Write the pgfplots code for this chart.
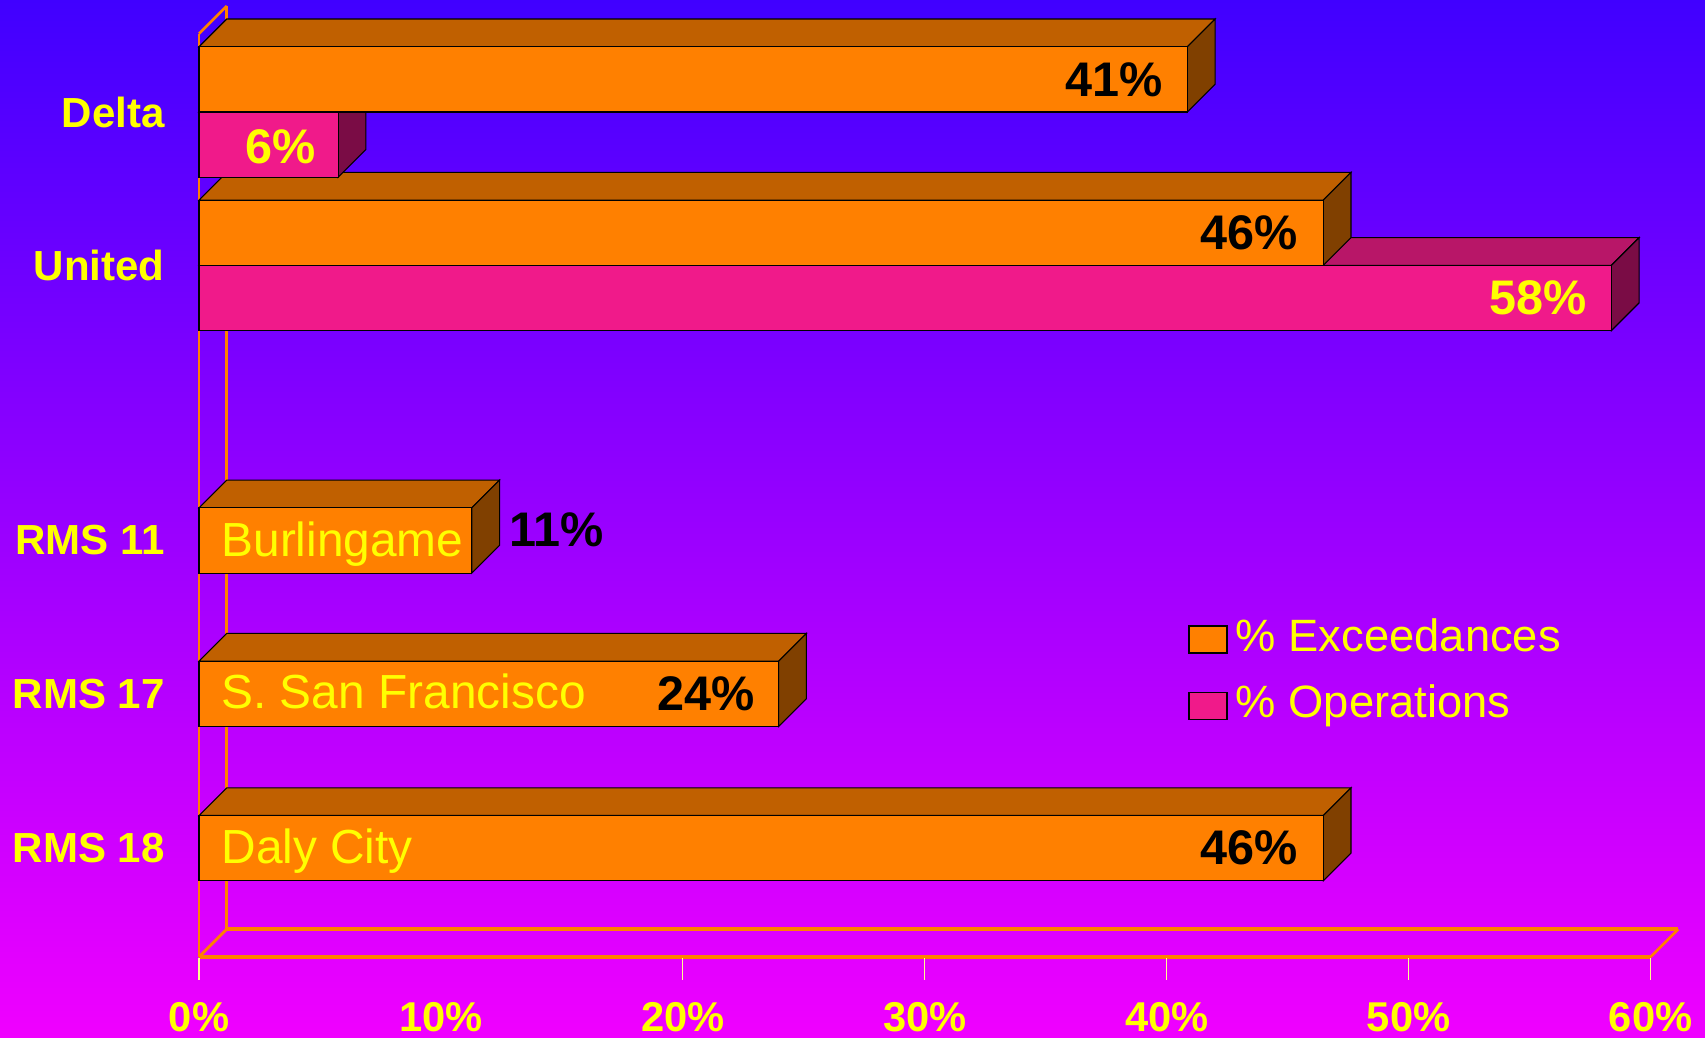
\documentclass[border=0pt]{standalone}
\usepackage{pgfplots}
\pgfplotsset{compat=1.18}
\usepackage{fontspec}
\setmainfont{Liberation Sans}

\definecolor{bgtop}{RGB}{64,0,255}
\definecolor{bgbot}{RGB}{240,0,255}
\definecolor{orfront}{RGB}{255,128,0}
\definecolor{ortop}{RGB}{192,96,0}
\definecolor{orside}{RGB}{128,64,0}
\definecolor{pkfront}{RGB}{240,26,138}
\definecolor{pktop}{RGB}{184,22,104}
\definecolor{pkside}{RGB}{122,12,69}
\definecolor{yel}{RGB}{255,255,0}
\definecolor{ticky}{RGB}{255,255,140}

\begin{document}
\begin{tikzpicture}
% 1 px of the 1568x954 view = 0.3pt
\shade[top color=bgtop, bottom color=bgbot, use as bounding box] (0,0) rectangle (470.4pt,286.2pt);
\begin{axis}[
  at={(54.9pt,0pt)}, anchor=south west,
  scale only axis, width=400.5pt, height=286.2pt,
  xmin=0, xmax=60, ymin=0, ymax=954, y dir=reverse,
  clip=false,
  axis line style={draw=none},
  ytick=\empty,
  xtick={0,10,...,60},
  xticklabels={0\%,10\%,20\%,30\%,40\%,50\%,60\%},
  major tick length=0pt,
  xticklabel style={font=\bfseries\fontsize{11.5}{13}\selectfont, text=yel, anchor=center, yshift=5.7pt},
  legend style={at={(axis cs:40.85,565)}, anchor=north west, draw=none, fill=none,
    inner sep=0pt, row sep=4.8pt,
    font=\fontsize{12.5}{14}\selectfont, text=yel,
    nodes={text height=9pt, text depth=2.5pt, inner sep=1pt}},
  legend cell align=left,
  legend image code/.code={\draw[#1, line width=0.4pt] (0pt,-3.75pt) rectangle (10.5pt,3.75pt);
    \path[draw=none, fill=none] (0pt,0pt) -- (12pt,0pt);},
]

% walls and floor
\addplot[orfront, line width=0.75pt, forget plot] coordinates {(0,31) (0,880)};
\addplot[orfront, line width=0.75pt, forget plot] coordinates {(1.146,5.5) (1.146,854.5)};
\addplot[orfront, line width=0.75pt, forget plot] coordinates {(0,31) (1.146,5.5)};
\addplot[orfront, line width=0.75pt, forget plot] coordinates {(0,880) (1.146,854.5)};
\addplot[orfront, line width=1.0pt, forget plot] coordinates {(0,880) (60,880)};
\addplot[orfront, line width=1.0pt, forget plot] coordinates {(1.146,854.5) (61.146,854.5)};
\addplot[orfront, line width=0.75pt, forget plot] coordinates {(60,880) (61.146,854.5)};

% tick marks below the floor
\addplot[ticky, line width=0.3pt, forget plot] coordinates {(0,881) (0,901)};
\addplot[ticky, line width=0.3pt, forget plot] coordinates {(20,881) (20,901)};
\addplot[ticky, line width=0.3pt, forget plot] coordinates {(30,881) (30,901)};
\addplot[ticky, line width=0.3pt, forget plot] coordinates {(40,881) (40,901)};
\addplot[ticky, line width=0.3pt, forget plot] coordinates {(50,881) (50,901)};
\addplot[ticky, line width=0.3pt, forget plot] coordinates {(60,881) (60,901)};

% top and side faces, lowest bar first
% RMS 18
\addplot[fill=ortop, draw=black, line width=0.3pt, forget plot] coordinates {(0,750) (46.47,750) (47.616,724.5) (1.146,724.5)} -- cycle;
\addplot[fill=orside, draw=black, line width=0.3pt, forget plot] coordinates {(46.47,750) (47.616,724.5) (47.616,784.5) (46.47,810)} -- cycle;
% RMS 17
\addplot[fill=ortop, draw=black, line width=0.3pt, forget plot] coordinates {(0,608) (23.96,608) (25.106,582.5) (1.146,582.5)} -- cycle;
\addplot[fill=orside, draw=black, line width=0.3pt, forget plot] coordinates {(23.96,608) (25.106,582.5) (25.106,642.5) (23.96,668)} -- cycle;
% RMS 11
\addplot[fill=ortop, draw=black, line width=0.3pt, forget plot] coordinates {(0,467) (11.28,467) (12.426,441.5) (1.146,441.5)} -- cycle;
\addplot[fill=orside, draw=black, line width=0.3pt, forget plot] coordinates {(11.28,467) (12.426,441.5) (12.426,501.5) (11.28,527)} -- cycle;
% United, operations
\addplot[fill=pktop, draw=black, line width=0.3pt, forget plot] coordinates {(0,244) (58.38,244) (59.526,218.5) (1.146,218.5)} -- cycle;
\addplot[fill=pkside, draw=black, line width=0.3pt, forget plot] coordinates {(58.38,244) (59.526,218.5) (59.526,278.5) (58.38,304)} -- cycle;
% United, exceedances
\addplot[fill=ortop, draw=black, line width=0.3pt, forget plot] coordinates {(0,184) (46.47,184) (47.616,158.5) (1.146,158.5)} -- cycle;
\addplot[fill=orside, draw=black, line width=0.3pt, forget plot] coordinates {(46.47,184) (47.616,158.5) (47.616,218.5) (46.47,244)} -- cycle;
% Delta, operations
\addplot[fill=pktop, draw=black, line width=0.3pt, forget plot] coordinates {(0,103) (5.75,103) (6.896,77.5) (1.146,77.5)} -- cycle;
\addplot[fill=pkside, draw=black, line width=0.3pt, forget plot] coordinates {(5.75,103) (6.896,77.5) (6.896,137.5) (5.75,163)} -- cycle;
% Delta, exceedances
\addplot[fill=ortop, draw=black, line width=0.3pt, forget plot] coordinates {(0,43) (40.85,43) (41.996,17.5) (1.146,17.5)} -- cycle;
\addplot[fill=orside, draw=black, line width=0.3pt, forget plot] coordinates {(40.85,43) (41.996,17.5) (41.996,77.5) (40.85,103)} -- cycle;

% front faces
\addplot[xbar, bar width=60, bar shift=0pt, fill=orfront, draw=black, line width=0.3pt]
  coordinates {(40.85,73) (46.47,214) (11.28,497) (23.96,638) (46.47,780)};
\addlegendentry{\% Exceedances}
\addplot[xbar, bar width=60, bar shift=0pt, fill=pkfront, draw=black, line width=0.3pt]
  coordinates {(5.75,133) (58.38,274)};
\addlegendentry{\% Operations}

% category labels
\begin{scope}[every node/.style={font=\bfseries\fontsize{11.6}{13}\selectfont, text=yel, anchor=east, inner sep=0pt}]
\node at (axis cs:-1.39,103) {Delta};
\node at (axis cs:-1.39,244) {United};
\node at (axis cs:-1.39,497) {RMS 11};
\node at (axis cs:-1.39,638) {RMS 17};
\node at (axis cs:-1.39,780) {RMS 18};
\end{scope}

% value labels
\begin{scope}[every node/.style={font=\bfseries\fontsize{13.4}{15}\selectfont, inner sep=0pt}]
\node[anchor=east] at (axis cs:39.85,73) {41\%};
\node[text=yel] at (axis cs:3.37,135) {6\%};
\node[anchor=east] at (axis cs:45.46,214) {46\%};
\node[anchor=east, text=yel] at (axis cs:57.37,274) {58\%};
\node[anchor=west] at (axis cs:12.8,487) {11\%};
\node[anchor=east] at (axis cs:23.0,638) {24\%};
\node[anchor=east] at (axis cs:45.46,780) {46\%};
\end{scope}

% site names inside the bars
\begin{scope}[every node/.style={font=\fontsize{13.2}{15}\selectfont, text=yel, anchor=base west, inner sep=0pt}]
\node at (axis cs:0.9,512) {Burlingame};
\node at (axis cs:0.9,652) {S. San Francisco};
\node at (axis cs:0.9,794) {Daly City};
\end{scope}
\end{axis}
\end{tikzpicture}
\end{document}
